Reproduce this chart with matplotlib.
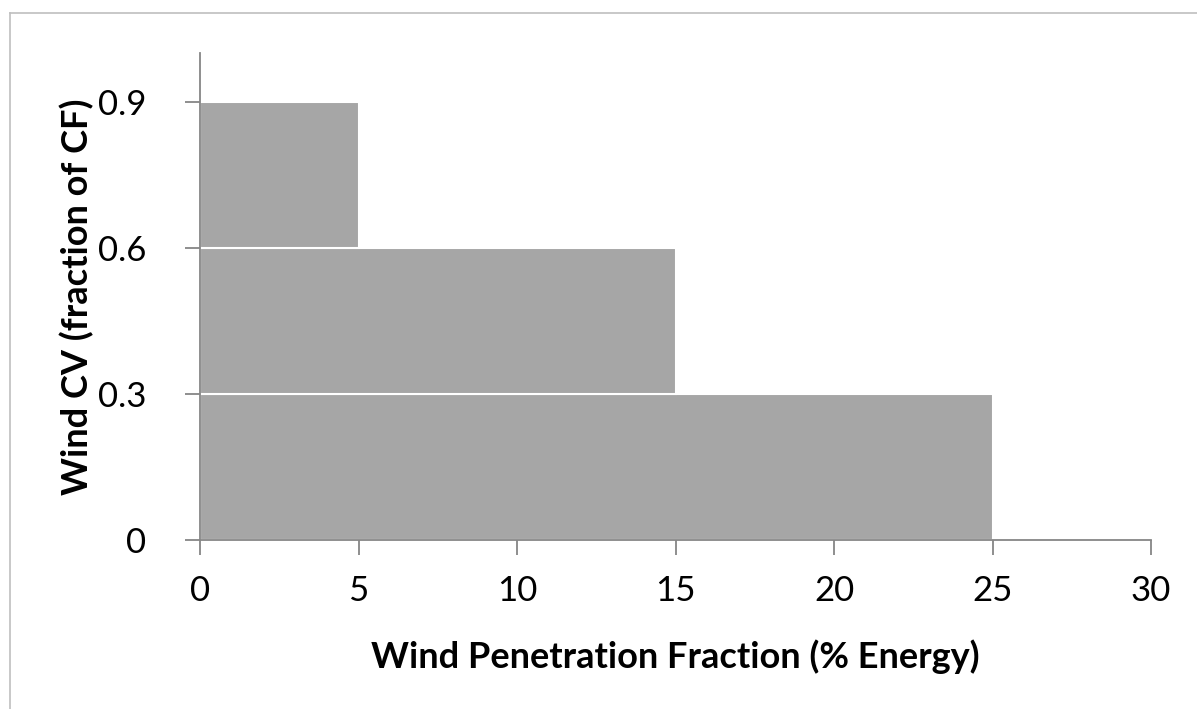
import matplotlib
matplotlib.use("Agg")
import matplotlib.pyplot as plt
from matplotlib.lines import Line2D

# Data
cv_levels = [0.0, 0.3, 0.6]          # bottom of each band (Wind CV)
band_height = 0.3
penetration = [25, 15, 5]            # % energy
x_ticks = [0, 5, 10, 15, 20, 25, 30]
y_ticks = [0, 0.3, 0.6, 0.9]
y_tick_labels = ["0", "0.3", "0.6", "0.9"]
x_label = "Wind Penetration Fraction (% Energy)"
y_label = "Wind CV (fraction of CF)"

plt.rcParams['font.family'] = ['Lato', 'DejaVu Sans']

W, H = 1197, 709
fig = plt.figure(figsize=(W / 100, H / 100), dpi=100)
ax = fig.add_axes([200 / W, 1 - 540 / H, (1151 - 200) / W, (540 - 53) / H])

bar_color = "#A6A6A6"
spine_color = "#868686"

ax.barh(cv_levels, penetration, height=band_height, align="edge",
        color=bar_color, edgecolor="white", linewidth=1.5, zorder=2)

ax.set_xlim(0, 30)
ax.set_ylim(0, 1.0)
ax.set_xticks(x_ticks)
ax.set_yticks(y_ticks)
ax.set_yticklabels(y_tick_labels)

for s in ["top", "right"]:
    ax.spines[s].set_visible(False)
for s in ["left", "bottom"]:
    ax.spines[s].set_color(spine_color)
    ax.spines[s].set_linewidth(1.3)
    ax.spines[s].set_zorder(3)

ax.tick_params(axis="both", direction="out", length=10.5, width=1.3,
               color=spine_color, labelsize=25, labelcolor="#000000")
ax.tick_params(axis="x", pad=15)
ax.tick_params(axis="y", pad=28)

ax.set_xlabel(x_label, fontsize=26, fontweight="bold", labelpad=23)
ax.set_ylabel(y_label, fontsize=26, fontweight="bold", labelpad=3)

# Chart-area border (top and left edges visible)
border_color = "#BFBFBF"
fig.add_artist(Line2D([9.5 / W, 1.0], [1 - 12.5 / H, 1 - 12.5 / H],
                      transform=fig.transFigure, color=border_color, linewidth=1.2))
fig.add_artist(Line2D([9.5 / W, 9.5 / W], [0.0, 1 - 12.5 / H],
                      transform=fig.transFigure, color=border_color, linewidth=1.2))

fig.savefig("out.png", dpi=100)
